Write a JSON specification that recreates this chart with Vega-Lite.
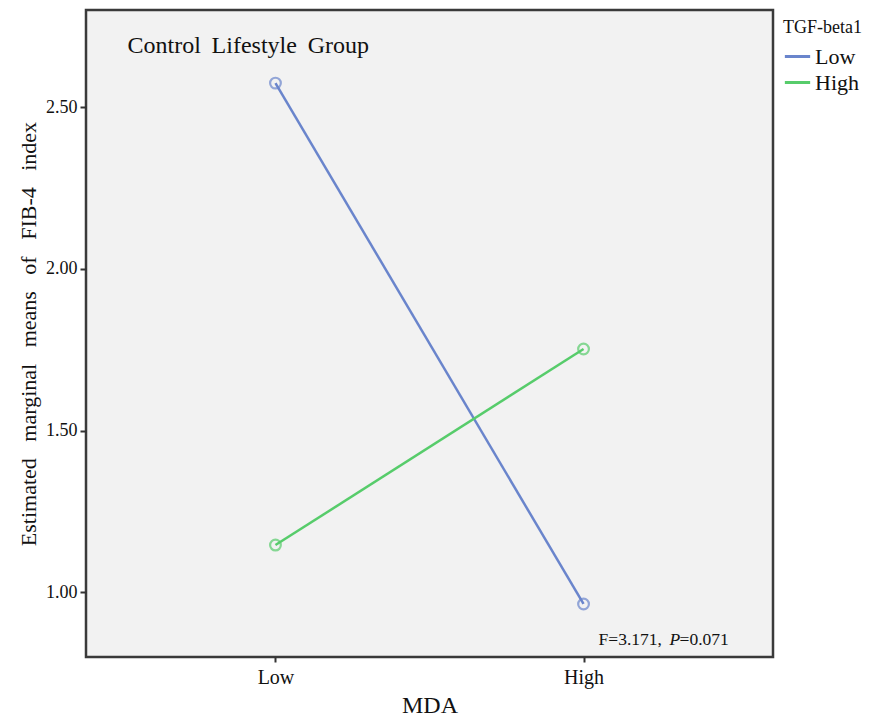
{
  "$schema": "https://vega.github.io/schema/vega-lite/v6.json",
  "width": 687,
  "height": 647,
  "autosize": {"type": "none"},
  "padding": {"left": 86, "top": 10, "right": 120, "bottom": 68},
  "background": "white",
  "config": {
    "font": "Liberation Serif",
    "view": {"fill": "#f2f2f2", "stroke": "#3a3a3a", "strokeWidth": 2.5}
  },
  "data": {
    "values": [
      {"MDA": "Low", "TGF": "Low", "mean": 2.574},
      {"MDA": "High", "TGF": "Low", "mean": 0.964},
      {"MDA": "Low", "TGF": "High", "mean": 1.146},
      {"MDA": "High", "TGF": "High", "mean": 1.752}
    ]
  },
  "encoding": {
    "x": {
      "field": "MDA", "type": "ordinal", "sort": ["Low", "High"],
      "scale": {"type": "point", "padding": 0.615},
      "axis": {
        "title": "MDA", "titleFontSize": 24, "titleFontWeight": "normal", "titleColor": "#111", "titlePadding": 6,
        "labelAngle": 0, "labelFontSize": 20, "labelColor": "#111", "labelPadding": 5,
        "tickColor": "#333", "tickSize": 5, "tickWidth": 2, "domain": false, "grid": false
      }
    },
    "y": {
      "field": "mean", "type": "quantitative",
      "scale": {"domain": [0.8, 2.8], "nice": false, "zero": false},
      "axis": {
        "title": "Estimated\u2002 marginal\u2002 means\u2002 of\u2002 FIB-4\u2002 index", "titleFontSize": 22, "titleFontWeight": "normal", "titleColor": "#111", "titlePadding": 5,
        "values": [1.0, 1.5, 2.0, 2.5], "format": ".2f",
        "labelFontSize": 18, "labelColor": "#111", "labelPadding": 3,
        "tickColor": "#333", "tickSize": 6, "tickWidth": 2, "domain": false, "grid": false
      }
    }
  },
  "layer": [
    {
      "mark": {"type": "line", "strokeWidth": 2.5},
      "encoding": {
        "color": {
          "field": "TGF", "type": "nominal", "sort": ["Low", "High"],
          "scale": {"domain": ["Low", "High"], "range": ["#6a85cc", "#57cc6b"]},
          "legend": {
            "title": "TGF-beta1", "orient": "none", "legendX": 697, "legendY": 9,
            "titleFontSize": 18, "titleFontWeight": "normal", "titleColor": "#111", "titlePadding": 5,
            "labelFontSize": 22, "labelColor": "#111", "labelOffset": 3,
            "symbolType": "stroke", "symbolSize": 640, "symbolStrokeWidth": 3, "rowPadding": 0
          }
        },
        "detail": {"field": "TGF"}
      }
    },
    {
      "mark": {"type": "point", "shape": "circle", "filled": false, "size": 115, "strokeWidth": 2.2},
      "encoding": {
        "color": {"field": "TGF", "type": "nominal", "sort": ["Low", "High"], "legend": null}
      }
    },
    {
      "transform": [{"filter": "datum.MDA == 'Low' && datum.TGF == 'Low'"}],
      "mark": {"type": "text", "text": "Control\u2009 Lifestyle\u2009 Group", "align": "left", "baseline": "alphabetic", "fontSize": 24, "color": "#111", "dx": -148},
      "encoding": {"x": {"datum": "Low"}, "y": {"datum": 2.667}}
    },
    {
      "transform": [{"filter": "datum.MDA == 'Low' && datum.TGF == 'Low'"}],
      "mark": {"type": "text", "text": "F=3.171,", "align": "left", "baseline": "alphabetic", "fontSize": 17.5, "color": "#111", "dx": 15},
      "encoding": {"x": {"datum": "High"}, "y": {"datum": 0.838}}
    },
    {
      "transform": [{"filter": "datum.MDA == 'Low' && datum.TGF == 'Low'"}],
      "mark": {"type": "text", "text": "P", "align": "left", "baseline": "alphabetic", "fontSize": 17.5, "fontStyle": "italic", "color": "#111", "dx": 86},
      "encoding": {"x": {"datum": "High"}, "y": {"datum": 0.838}}
    },
    {
      "transform": [{"filter": "datum.MDA == 'Low' && datum.TGF == 'Low'"}],
      "mark": {"type": "text", "text": "=0.071", "align": "left", "baseline": "alphabetic", "fontSize": 17.5, "color": "#111", "dx": 96},
      "encoding": {"x": {"datum": "High"}, "y": {"datum": 0.838}}
    }
  ]
}
